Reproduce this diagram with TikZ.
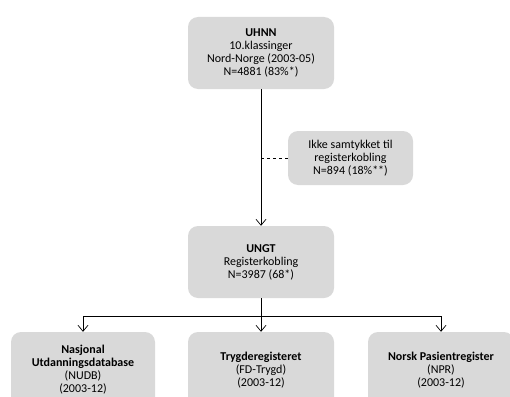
\documentclass[tikz,border=0pt]{standalone}
\usepackage{fontspec}
\setmainfont{Carlito}
\usetikzlibrary{arrows.meta}

\definecolor{boxgray}{RGB}{217,217,217}

\tikzset{
  box/.style={fill=boxgray, rounded corners=10pt, align=center,
    font=\fontsize{12}{13}\selectfont, inner sep=2pt},
  bigbox/.style={box, minimum width=146pt, minimum height=72pt},
  regbox/.style={box, minimum width=146pt, minimum height=76pt},
  link/.style={line width=0.7pt, -{Straight Barb[length=6pt,width=10pt]}}
}

\begin{document}
\begin{tikzpicture}[x=1pt,y=-1pt]
\useasboundingbox (0,0) rectangle (510,396);
\clip (0,0) rectangle (510,396);

% top of the chart
\node [bigbox] (uhnn) at (261,53) {\textbf{UHNN}\\10.klassinger\\Nord-Norge (2003-05)\\N=4881 (83\%*)};
\node [box, minimum width=125pt, minimum height=54pt] (ikke) at (350.5,158)
		{Ikke samtykket til\\registerkobling\\N=894 (18\%**)};
\node [bigbox] (ungt) at (261,262) {\textbf{UNGT}\\Registerkobling\\N=3987 (68*)};

% registers
\node [regbox, minimum width=144pt] (nudb) at (83,370) {\textbf{Nasjonal}\\\textbf{Utdanningsdatabase}\\(NUDB)\\(2003-12)};
\node [regbox] (trygd) at (261,370) {\textbf{Trygderegisteret}\\(FD-Trygd)\\(2003-12)};
\node [regbox] (npr) at (441,370) {\textbf{Norsk Pasientregister}\\(NPR)\\(2003-12)};

\draw [link] (uhnn) -- (ungt);
\coordinate (drop) at (uhnn.south |- ikke.west);
\draw [dashed, line width=0.7pt] (drop) -- (ikke.west);

\coordinate (split) at (261,316);
\draw [link] (ungt) -- (trygd);
\draw [link] (split) -| (nudb.north);
\draw [link] (split) -| (npr.north);
\end{tikzpicture}
\end{document}
